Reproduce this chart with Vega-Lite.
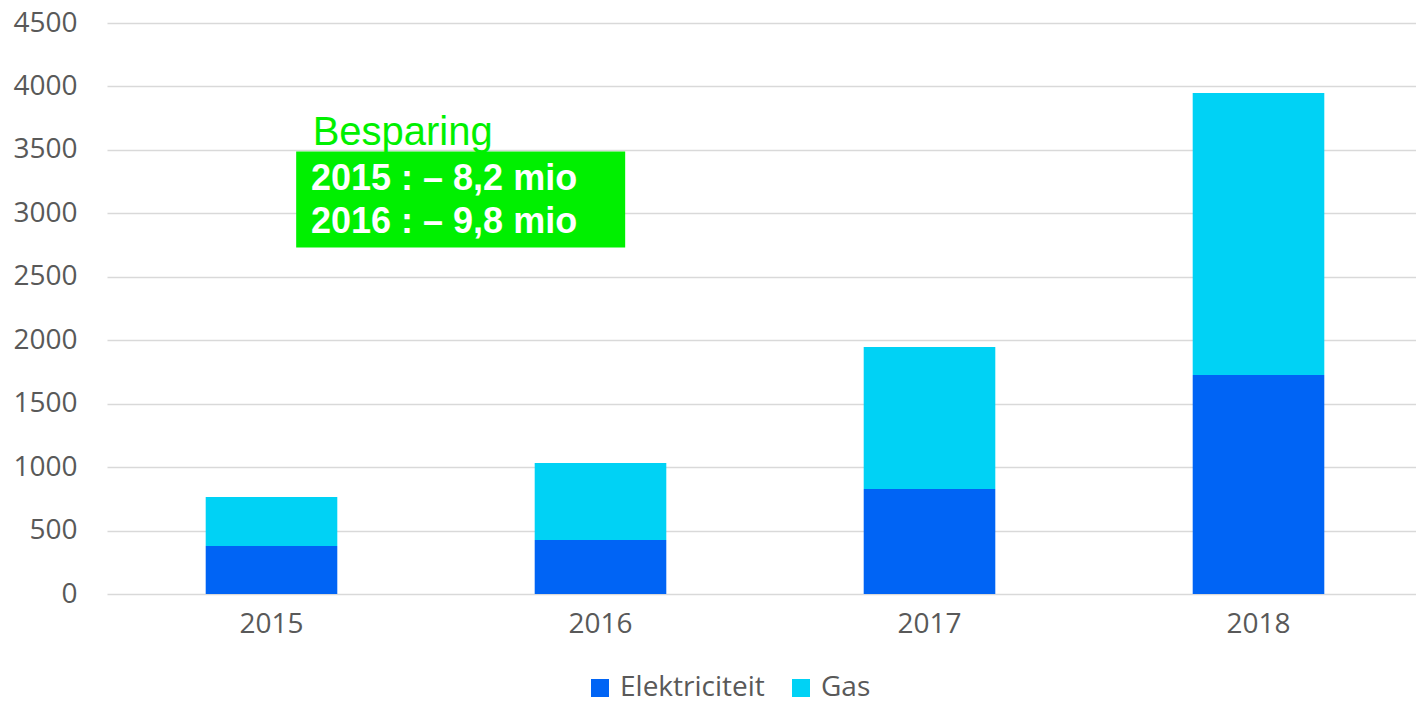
{
  "$schema": "https://vega.github.io/schema/vega-lite/v6.json",
  "width": 1316,
  "height": 571,
  "autosize": {"type": "none"},
  "padding": {"left": 107, "top": 23, "right": 0, "bottom": 107},
  "background": "white",
  "config": {"view": {"stroke": null}, "font": "Open Sans"},
  "datasets": {
    "bars": [
      {"year": "2015", "type": "Elektriciteit", "value": 378},
      {"year": "2015", "type": "Gas", "value": 386},
      {"year": "2016", "type": "Elektriciteit", "value": 425},
      {"year": "2016", "type": "Gas", "value": 607},
      {"year": "2017", "type": "Elektriciteit", "value": 827},
      {"year": "2017", "type": "Gas", "value": 1119},
      {"year": "2018", "type": "Elektriciteit", "value": 1726},
      {"year": "2018", "type": "Gas", "value": 2222}
    ],
    "box": [
      {"x0": 0.575, "x1": 1.575, "y0": 2731, "y1": 3488}
    ],
    "notes": [
      {"kind": "title", "label": "Besparing", "x": 0.625, "y": 3535},
      {"kind": "line", "label": "2015 : – 8,2 mio", "x": 0.62, "y": 3180},
      {"kind": "line", "label": "2016 : – 9,8 mio", "x": 0.62, "y": 2847}
    ]
  },
  "layer": [
    {
      "data": {"name": "bars"},
      "mark": {"type": "bar"},
      "encoding": {
        "x": {
          "field": "year", "type": "nominal",
          "scale": {"paddingInner": 0.6, "paddingOuter": 0.3},
          "axis": {"title": null, "labelAngle": 0, "labelFontSize": 28, "labelColor": "#595959", "ticks": false, "domain": false, "labelPadding": 16, "grid": false}
        },
        "y": {
          "field": "value", "type": "quantitative", "stack": "zero",
          "scale": {"domain": [0, 4500], "nice": false},
          "axis": {"title": null, "values": [0, 500, 1000, 1500, 2000, 2500, 3000, 3500, 4000, 4500], "format": "d", "labelFontSize": 28, "labelColor": "#595959", "ticks": false, "domain": false, "labelPadding": 30, "gridColor": "#D9D9D9", "gridWidth": 1.5}
        },
        "color": {
          "field": "type", "type": "nominal",
          "scale": {"domain": ["Elektriciteit", "Gas"], "range": ["#0064F5", "#00D2F5"]},
          "legend": {"title": null, "orient": "none", "direction": "horizontal", "legendX": 479, "legendY": 651, "symbolType": "square", "symbolSize": 324, "symbolStrokeWidth": 0, "labelFontSize": 28, "labelColor": "#595959", "labelOffset": 6, "labelLimit": 0, "columnPadding": 22}
        },
        "order": {"field": "type", "sort": "ascending"}
      }
    },
    {
      "data": {"name": "box"},
      "mark": {"type": "rect", "color": "#00F000"},
      "encoding": {
        "x": {"field": "x0", "type": "quantitative", "scale": {"domain": [0, 4]}, "axis": null},
        "x2": {"field": "x1"},
        "y": {"field": "y0", "type": "quantitative"},
        "y2": {"field": "y1"}
      }
    },
    {
      "data": {"name": "notes"},
      "transform": [{"filter": "datum.kind === 'title'"}],
      "mark": {"type": "text", "align": "left", "baseline": "alphabetic", "font": "Liberation Sans", "fontSize": 40, "color": "#00F000"},
      "encoding": {
        "x": {"field": "x", "type": "quantitative", "scale": {"domain": [0, 4]}, "axis": null},
        "y": {"field": "y", "type": "quantitative"},
        "text": {"field": "label"}
      }
    },
    {
      "data": {"name": "notes"},
      "transform": [{"filter": "datum.kind === 'line'"}],
      "mark": {"type": "text", "align": "left", "baseline": "alphabetic", "font": "Liberation Sans", "fontSize": 36, "fontWeight": "bold", "color": "white"},
      "encoding": {
        "x": {"field": "x", "type": "quantitative", "scale": {"domain": [0, 4]}, "axis": null},
        "y": {"field": "y", "type": "quantitative"},
        "text": {"field": "label"}
      }
    }
  ],
  "resolve": {"scale": {"x": "independent"}}
}
